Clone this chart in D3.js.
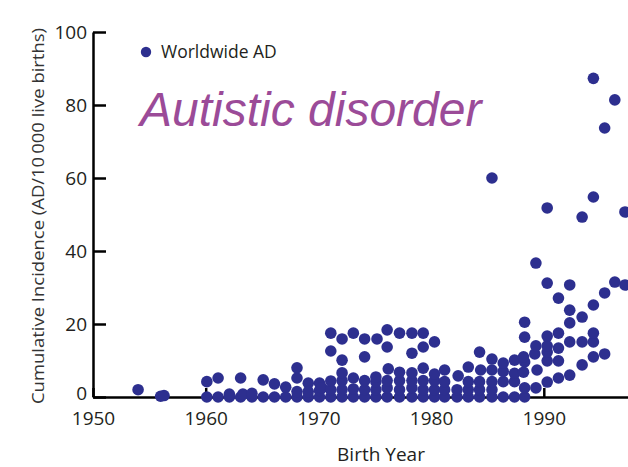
<!DOCTYPE html>
<html>
<head>
<meta charset="utf-8">
<script src="https://cdn.jsdelivr.net/npm/d3@7"></script>
<style>
  body { margin: 0; background: #fff; }
  svg { display: block; }
</style>
</head>
<body>
<div id="chart"></div>
<script>
// birth year of each cohort and its cumulative incidence (AD per 10 000 live births)
var birthYears = [
  1954, 1956, 1956.3,
  1960.1, 1960.1, 1961.1, 1961.1, 1962.1, 1962.1, 1963.1, 1963.1, 1963.3, 1964.1, 1964.1,
  1965.1, 1965.1, 1966.1, 1966.1, 1967.1, 1967.1,
  1968.1, 1968.1, 1968.1, 1968.1, 1969.1, 1969.1, 1969.1,
  1970.1, 1970.1, 1970.1, 1970.3,
  1971.1, 1971.1, 1971.1, 1971.1, 1971.1,
  1972.1, 1972.1, 1972.1, 1972.1, 1972.1, 1972.1,
  1973.1, 1973.1, 1973.1, 1973.1,
  1974.1, 1974.1, 1974.1, 1974.1, 1974.1,
  1975.1, 1975.1, 1975.1, 1975.1, 1975.2,
  1976.1, 1976.1, 1976.1, 1976.2, 1976.1, 1976.1,
  1977.2, 1977.2, 1977.2, 1977.2, 1977.2,
  1978.3, 1978.3, 1978.3, 1978.3, 1978.3, 1978.3,
  1979.3, 1979.3, 1979.3, 1979.3, 1979.3, 1979.3,
  1980.3, 1980.3, 1980.3, 1980.3, 1980.3,
  1981.2, 1981.2, 1981.2, 1981.2,
  1982.3, 1982.3, 1982.4,
  1983.3, 1983.3, 1983.3, 1983.3,
  1984.3, 1984.3, 1984.3, 1984.4, 1984.3,
  1985.4, 1985.4, 1985.4, 1985.4, 1985.4, 1985.4,
  1986.4, 1986.4, 1986.4, 1986.4,
  1987.4, 1987.4, 1987.4, 1987.4,
  1988.3, 1988.3, 1988.2, 1988.3, 1988.2, 1988.3, 1988.3,
  1989.3, 1989.4, 1989.2, 1989.3, 1989.3,
  1990.3, 1990.3, 1990.3, 1990.3, 1990.3, 1990.3, 1990.3,
  1991.3, 1991.3, 1991.3, 1991.3, 1991.3,
  1992.3, 1992.3, 1992.3, 1992.3, 1992.3,
  1993.4, 1993.4, 1993.4, 1993.4,
  1994.4, 1994.4, 1994.4, 1994.4, 1994.4, 1994.4,
  1995.4, 1995.4, 1995.4,
  1996.3, 1996.3,
  1997.2, 1997.2
];
var incidence = [
  2.0, 0.2, 0.4,
  0, 4.2, 0, 5.2, 0, 0.8, 0, 5.2, 0.8, 0, 1.0,
  0, 4.7, 0, 3.6, 0, 2.7,
  0, 1.5, 5.2, 8.0, 0, 3.8, 1.5,
  0, 3.8, 1.8, 2.5,
  0, 2.0, 4.4, 12.6, 17.5,
  0, 2.0, 4.5, 6.6, 10.1, 15.9,
  0, 2.2, 5.2, 17.5,
  0, 2.0, 4.5, 11.0, 15.9,
  0, 2.0, 4.2, 5.5, 15.9,
  0, 2.5, 4.5, 7.7, 13.7, 18.4,
  0, 2.0, 4.5, 6.8, 17.5,
  0, 2.5, 4.5, 6.6, 12.0, 17.5,
  0, 2.0, 4.5, 7.9, 13.7, 17.5,
  0, 2.0, 4.5, 6.3, 15.1,
  0, 2.0, 4.2, 7.4,
  0, 2.0, 5.8,
  0, 2.0, 4.2, 8.2,
  0, 2.0, 4.2, 7.4, 12.3,
  0, 2.0, 4.2, 7.4, 10.4, 60,
  0, 4.2, 7.0, 9.3,
  0, 4.2, 6.5, 10.1,
  0, 2.5, 6.8, 9.6, 11.0, 16.4, 20.5,
  2.5, 7.4, 11.8, 14.0, 36.7,
  4.1, 9.9, 12.3, 14.0, 16.7, 31.2, 51.8,
  5.2, 9.9, 13.4, 17.5, 27.1,
  6.0, 15.1, 20.3, 23.8, 30.7,
  8.8, 15.1, 21.9, 49.3,
  11.0, 15.1, 17.5, 25.2, 54.8, 87.3,
  11.8, 28.5, 73.7,
  31.5, 81.4,
  30.7, 50.7
];
var xTicks = [1950, 1960, 1970, 1980, 1990];
var yTicks = [0, 20, 40, 60, 80, 100];
var legendLabel = "Worldwide AD";
var titleText = "Autistic disorder";

var width = 628, height = 467;
var dotColor = "#2d2f8f";
var textColor = "#231f20";

var svg = d3.select("#chart").append("svg")
    .attr("width", width)
    .attr("height", height);

// scales: axis origin at (93, 397), 100 at y=32
var x = d3.scaleLinear().domain([1950, 2000]).range([93, 93 + 50 * 11.27]);
var y = d3.scaleLinear().domain([0, 100]).range([397, 32]);

// y axis, ticks pointing inward
var yAxis = d3.axisLeft(y).tickValues(yTicks).tickSizeInner(-13).tickSizeOuter(0).tickPadding(6);
var gy = svg.append("g").attr("transform", "translate(" + x(1950) + ",0)").call(yAxis);
gy.select(".domain").attr("stroke", "#000").attr("stroke-width", 2.5);
gy.selectAll(".tick line").attr("stroke", "#000").attr("stroke-width", 2.5);
gy.selectAll(".tick text")
    .attr("x", -6)
    .attr("dy", function(d) { return d === 0 ? "0.15em" : "0.32em"; })
    .style("font-family", "'Open Sans', sans-serif")
    .style("font-size", "19px")
    .attr("fill", textColor);

// x axis, ticks pointing inward
var xAxis = d3.axisBottom(x).tickValues(xTicks).tickFormat(d3.format("d"))
    .tickSizeInner(-9).tickSizeOuter(0).tickPadding(4);
var gx = svg.append("g").attr("transform", "translate(0," + y(0) + ")").call(xAxis);
gx.select(".domain").attr("stroke", "#000").attr("stroke-width", 2.5);
gx.selectAll(".tick line").attr("stroke", "#000").attr("stroke-width", 2.5);
gx.selectAll(".tick text")
    .attr("y", 15)
    .style("font-family", "'Open Sans', sans-serif")
    .style("font-size", "19px")
    .attr("fill", textColor);

// axis titles
svg.append("text")
    .attr("text-anchor", "middle")
    .attr("transform", "translate(44," + 216 + ")rotate(-90)")
    .style("font-family", "'Open Sans', sans-serif")
    .style("font-size", "17px")
    .attr("fill", "#333")
    .attr("textLength", 376)
    .attr("lengthAdjust", "spacingAndGlyphs")
    .text("Cumulative Incidence (AD/10\u2009000 live births)");

svg.append("text")
    .attr("text-anchor", "middle")
    .attr("x", 381)
    .attr("y", 461)
    .style("font-family", "'Open Sans', sans-serif")
    .style("font-size", "19px")
    .attr("fill", textColor)
    .text("Birth Year");

// data points
var points = birthYears.map(function(yr, i) { return { year: yr, value: incidence[i] }; });
svg.append("g").attr("class", "data")
    .selectAll("circle")
    .data(points)
    .enter()
    .append("circle")
    .attr("cx", function(d) { return x(d.year); })
    .attr("cy", function(d) { return y(d.value); })
    .attr("r", 5.8)
    .attr("fill", dotColor);

// legend
svg.append("circle").attr("cx", 146).attr("cy", 52).attr("r", 5.2).attr("fill", dotColor);
svg.append("text")
    .attr("x", 161)
    .attr("y", 58)
    .style("font-family", "'Open Sans', sans-serif")
    .style("font-size", "17.5px")
    .attr("fill", textColor)
    .text(legendLabel);

// title
svg.append("text")
    .attr("x", 140)
    .attr("y", 126)
    .style("font-family", "'Liberation Sans', Arial, sans-serif")
    .style("font-style", "italic")
    .style("font-size", "48px")
    .attr("fill", "#9b4b98")
    .text(titleText);
</script>
</body>
</html>
